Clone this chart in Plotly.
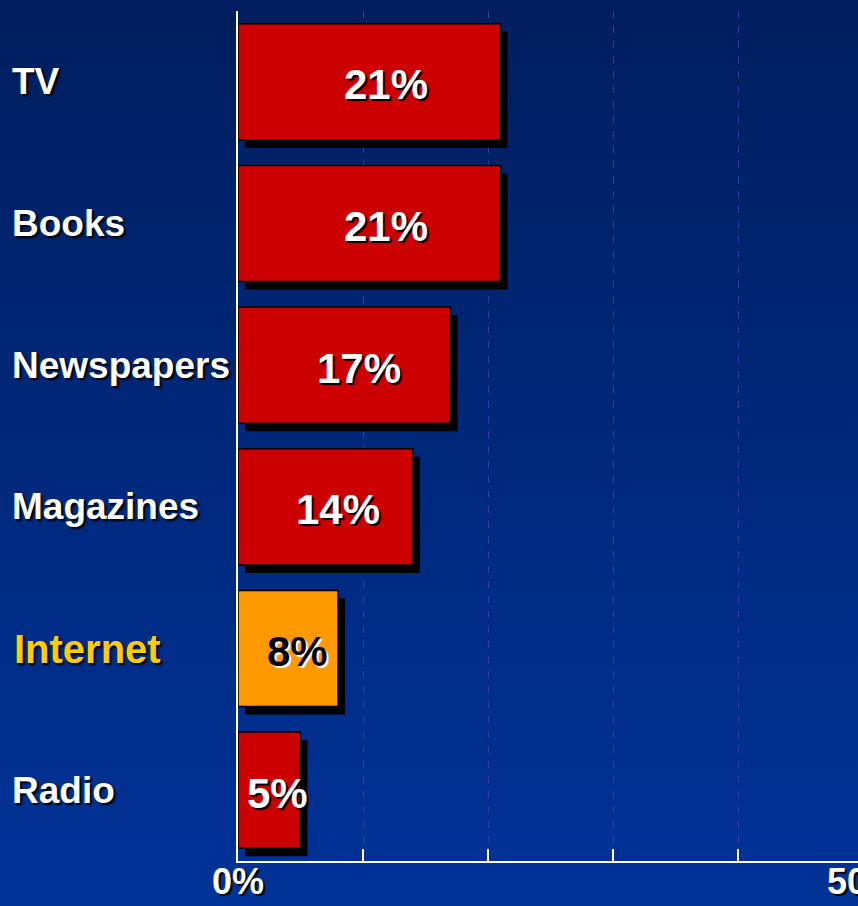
import base64
import plotly.graph_objects as go

# ---- data ----
categories = ["TV", "Books", "Newspapers", "Magazines", "Internet", "Radio"]
shares     = [21, 21, 17, 14, 8, 5]          # percent
highlight  = "Internet"
x_labels   = {0: "0%", 50: "50%"}

# ---- style ----
FONT     = "Arial, 'Liberation Sans', sans-serif"
RED      = "#cc0000"
ORANGE   = "#ff9900"
GOLD     = "#ffcc00"
W, H     = 858, 906
ML, MT, MB = 238, 11, 45
PX_PER_PCT = 12.5                      # 125 px per 10 %
X_MAX    = (W - ML) / PX_PER_PCT       # 50% sits just off the right edge
CAT_PX   = (H - MT - MB) / len(categories)
SH_X, SH_Y = 7, 8                      # drop shadow offset in px
LABEL_POS = 0.545                      # value label sits a bit right of bar centre

bar_cols = [ORANGE if c == highlight else RED for c in categories]

# vertical gradient background as an svg data uri
svg = ('<svg xmlns="http://www.w3.org/2000/svg" width="10" height="100" preserveAspectRatio="none">'
       '<defs><linearGradient id="g" x1="0" y1="0" x2="0" y2="1">'
       '<stop offset="0" stop-color="#001e5e"/><stop offset="1" stop-color="#003399"/>'
       '</linearGradient></defs><rect width="10" height="100" fill="url(#g)"/></svg>')
bg_src = "data:image/svg+xml;base64," + base64.b64encode(svg.encode()).decode()

fig = go.Figure()

# drop shadows
fig.add_trace(go.Bar(
    y=categories, x=shares, base=SH_X / PX_PER_PCT, orientation="h",
    width=0.82, offset=-0.41 + SH_Y / CAT_PX,
    marker=dict(color="black", line=dict(width=0)),
    hoverinfo="skip", showlegend=False
))

# bars
fig.add_trace(go.Bar(
    y=categories, x=shares, orientation="h",
    width=0.82, offset=-0.41,
    marker=dict(color=bar_cols, line=dict(color="black", width=1.5)),
    showlegend=False
))

# value labels + category labels
for c, v in zip(categories, shares):
    hi = c == highlight
    fig.add_annotation(
        x=v * LABEL_POS, y=c, xref="x", yref="y", text=f"{v}%", showarrow=False,
        xshift=5, yshift=-3,
        font=dict(family=FONT, size=42, weight="bold",
                  color="black" if hi else "white",
                  shadow="2px 2px 1px #ffffff" if hi else "2px 2px 1px #000000"))
    fig.add_annotation(
        x=0, y=c, xref="paper", yref="y", text=c, showarrow=False,
        xanchor="left", xshift=-ML + (12 if hi else 10),
        font=dict(family=FONT, size=40 if hi else 37, weight="bold",
                  color=GOLD if hi else "white",
                  shadow="2px 2px 2px #000000"))

# x axis end labels (50% is cut off by the right edge, as in the original)
for val, lab in x_labels.items():
    fig.add_annotation(
        x=val / X_MAX, y=0, xref="paper", yref="paper", text=lab, showarrow=False,
        xanchor="center", yanchor="top", yshift=2,
        font=dict(family=FONT, size=36, weight="bold", color="white",
                  shadow="2px 2px 1px #000000"))

fig.update_xaxes(
    range=[0, X_MAX], tickvals=[0, 10, 20, 30, 40, 50], showticklabels=False,
    ticks="inside", ticklen=12, tickwidth=2, tickcolor="white",
    showline=True, linecolor="white", linewidth=2,
    showgrid=True, gridcolor="#3a3aa6", gridwidth=1, griddash="7px,8px",
    zeroline=False, automargin=False,
)
fig.update_yaxes(
    range=[len(categories) - 0.5, -0.5], showticklabels=False, ticks="",
    showline=True, linecolor="white", linewidth=2,
    showgrid=False, zeroline=False, automargin=False,
)

fig.update_layout(
    width=W, height=H, barmode="overlay",
    margin=dict(l=ML, r=0, t=MT, b=MB, pad=0),
    paper_bgcolor="#002a80", plot_bgcolor="rgba(0,0,0,0)",
    images=[dict(source=bg_src, xref="paper", yref="paper",
                 x=-ML / (W - ML), y=1 + MT / (H - MT - MB),
                 sizex=W / (W - ML) + 0.01, sizey=H / (H - MT - MB) + 0.01,
                 xanchor="left", yanchor="top", sizing="stretch", layer="below")],
)

# page body has a default 8px margin; drop it so the figure fills the window
fig.write_html("out.html", config={"displayModeBar": False},
               post_script="document.body.style.margin='0';document.body.style.overflow='hidden';")
